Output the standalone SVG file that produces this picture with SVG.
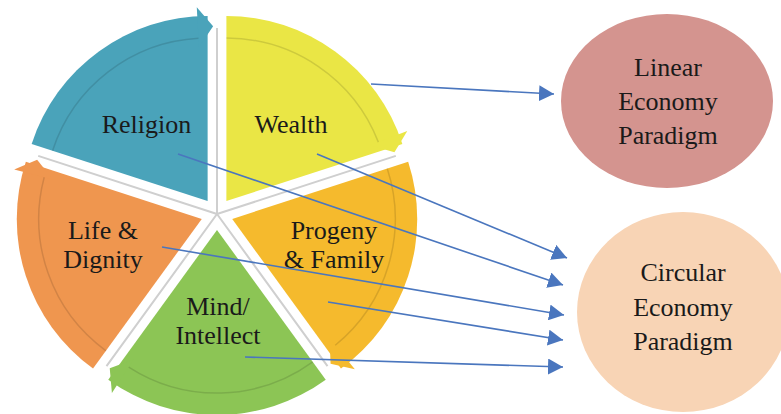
<svg xmlns="http://www.w3.org/2000/svg" width="781" height="414" viewBox="0 0 781 414">
<style>
.lbl{font-family:"Liberation Serif","Times New Roman","DejaVu Serif",serif;font-size:26px;fill:#1a1a1a;text-anchor:middle}
.band{fill:none;stroke:#000;stroke-opacity:0.12;stroke-width:1.5}
.div{stroke:#cfcfcf;stroke-width:2;fill:none}
.conn{stroke:#4A76BE;stroke-width:1.6;fill:none}
</style>
<defs>
<marker id="ah" viewBox="0 0 15 16" markerWidth="15" markerHeight="16" markerUnits="userSpaceOnUse" refX="15" refY="8" orient="auto">
<path d="M0,0 L15,8 L0,16 Z" fill="#4A76BE"/>
</marker>
</defs>
<rect width="781" height="414" fill="#ffffff"/>
<g id="dividers">
<path class="div" d="M217,214 L217,28 M217,214 L395.8,155.9 M217,214 L327.5,366.1 M217,214 L106.5,366.1 M217,214 L38.2,155.9"/>
</g>
<g id="religion">
<path d="M207.60,201.06 L31.65,143.89 A185,185 0 0 1 207.60,16.06 Z" fill="#4AA3BA"/>
<path d="M196.77,7.36 L213.10,26.15 L199.00,47.30 Z" fill="#4AA3BA"/>
<path class="band" d="M52.58,150.69 A163,163 0 0 1 198.50,38.31"/>
<text class="lbl" font-family="Liberation Serif" x="146.5" y="133">Religion</text>
</g>
<g id="wealth">
<path d="M226.40,201.06 L226.40,16.06 A185,185 0 0 1 402.35,143.89 Z" fill="#EAE645"/>
<path d="M407.27,130.91 L394.45,152.24 L369.98,145.37 Z" fill="#EAE645"/>
<path class="band" d="M226.40,38.06 A163,163 0 0 1 378.37,142.12"/>
<text class="lbl" font-family="Liberation Serif" x="291" y="133">Wealth</text>
</g>
<g id="progeny">
<path d="M232.22,218.94 L408.17,161.77 A185,185 0 0 1 340.96,368.61 Z" fill="#F5BA2D"/>
<path d="M354.84,369.28 L330.58,363.68 L329.56,338.28 Z" fill="#F5BA2D"/>
<path class="band" d="M387.24,168.57 A163,163 0 0 1 335.25,345.25"/>
<text class="lbl" font-family="Liberation Serif" x="334" y="239">Progeny</text>
<text class="lbl" font-family="Liberation Serif" x="334" y="268">&amp; Family</text>
</g>
<g id="mind">
<path d="M217,230 L325.74,379.67 A185,185 0 0 1 108.26,379.67 Z" fill="#8CC555"/>
<path d="M111.91,393.07 L109.74,368.28 L133.58,359.45 Z" fill="#8CC555"/>
<path class="band" d="M312.81,361.87 A163,163 0 0 1 128.70,367.01"/>
<text class="lbl" font-family="Liberation Serif" x="218" y="315">Mind/</text>
<text class="lbl" font-family="Liberation Serif" x="218" y="344">Intellect</text>
</g>
<g id="life">
<path d="M201.78,218.94 L93.04,368.61 A185,185 0 0 1 25.83,161.77 Z" fill="#EF964F"/>
<path d="M14.22,169.38 L37.13,159.66 L52.89,179.60 Z" fill="#EF964F"/>
<path class="band" d="M105.97,350.81 A163,163 0 0 1 44.19,177.30"/>
<text class="lbl" font-family="Liberation Serif" x="103" y="239">Life &amp;</text>
<text class="lbl" font-family="Liberation Serif" x="103" y="268">Dignity</text>
</g>
<g id="linear">
<ellipse cx="667" cy="101" rx="106" ry="87" fill="#D4948F"/>
<text class="lbl" font-family="Liberation Serif" x="668" y="76">Linear</text>
<text class="lbl" font-family="Liberation Serif" x="668" y="110">Economy</text>
<text class="lbl" font-family="Liberation Serif" x="668" y="144">Paradigm</text>
</g>
<g id="circular">
<ellipse cx="683" cy="312" rx="106" ry="100" fill="#F8D4B5"/>
<text class="lbl" font-family="Liberation Serif" x="683" y="281">Circular</text>
<text class="lbl" font-family="Liberation Serif" x="683" y="316">Economy</text>
<text class="lbl" font-family="Liberation Serif" x="683" y="350">Paradigm</text>
</g>
<g id="connectors">
<line class="conn" x1="371" y1="84" x2="554" y2="94" marker-end="url(#ah)"/>
<line class="conn" x1="317" y1="154" x2="567" y2="258" marker-end="url(#ah)"/>
<line class="conn" x1="178" y1="154" x2="563" y2="285" marker-end="url(#ah)"/>
<line class="conn" x1="162" y1="247" x2="564" y2="315" marker-end="url(#ah)"/>
<line class="conn" x1="328" y1="302" x2="563" y2="340" marker-end="url(#ah)"/>
<line class="conn" x1="245" y1="357" x2="563" y2="367" marker-end="url(#ah)"/>
</g>
</svg>
